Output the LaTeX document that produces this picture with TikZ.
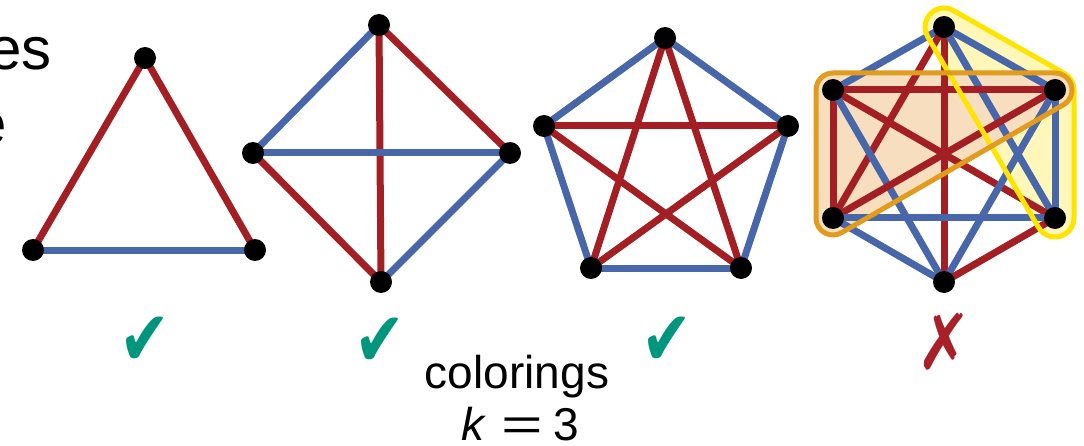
\documentclass[tikz,border=0pt]{standalone}
\usepackage{fontspec}
\usepackage{graphicx}
\setmainfont{Liberation Sans}
\newfontfamily\symfont{DejaVu Sans}
\usetikzlibrary{calc}
\pgfdeclarelayer{back}
\pgfsetlayers{back,main}
\definecolor{ered}{RGB}{163,31,36}
\definecolor{eblue}{RGB}{72,102,170}
\definecolor{okgreen}{RGB}{0,150,125}
\definecolor{badred}{RGB}{168,32,40}
\definecolor{hullorange}{RGB}{225,155,30}
\definecolor{hullorangefill}{RGB}{246,222,190}
\definecolor{hullyellow}{RGB}{255,228,0}
\definecolor{hullyellowfill}{RGB}{255,247,185}
\newcommand\hullpath[4]{%
  let \p1=($(#2.center)-(#1.center)$), \p2=($(#3.center)-(#2.center)$), \p3=($(#1.center)-(#3.center)$),
      \n1={atan2(\y1,\x1)-90}, \n2={atan2(\y2,\x2)-90}, \n3={atan2(\y3,\x3)-90},
      \n4={mod(\n2-\n1+720,360)}, \n5={mod(\n3-\n2+720,360)}, \n6={mod(\n1-\n3+720,360)}
  in ($(#1.center)+(\n1:#4)$) -- ($(#2.center)+(\n1:#4)$)
     arc[start angle=\n1, delta angle=\n4, radius=#4]
     -- ($(#3.center)+(\n2:#4)$)
     arc[start angle=\n2, delta angle=\n5, radius=#4]
     -- ($(#1.center)+(\n3:#4)$)
     arc[start angle=\n3, delta angle=\n6, radius=#4]
     -- cycle}
\begin{document}
\begin{tikzpicture}[x=1pt,y=1pt,
  vtx/.style={circle,fill=black,inner sep=0pt,minimum size=22pt},
  redge/.style={draw=ered,line width=7pt},
  bedge/.style={draw=eblue,line width=7pt},
  okmark/.style={text=okgreen,font=\symfont\fontsize{64}{64}\selectfont,inner sep=0pt},
  badmark/.style={text=badred,font=\symfont\fontsize{70}{70}\selectfont,inner sep=0pt},
  bigtext/.style={font=\fontsize{60}{72}\selectfont,inner sep=0pt},
  captext/.style={font=\fontsize{46}{52}\selectfont,inner sep=0pt},
  hullfill/.style={fill=#1},
  hullline/.style={draw=#1,line width=5pt}
]
\useasboundingbox (0,0) rectangle (1084,445);
% cut-off text at the left
\node[bigtext,anchor=base east] (es) at (52,375) {es};
\node[bigtext,anchor=base east] (e2) at (7,300) {e};
% K3
\node[vtx] (t1) at (145,387) {};
\node[vtx] (t2) at (33,195) {};
\node[vtx] (t3) at (255,195) {};
% K4
\node[vtx] (a1) at (379,420) {};
\node[vtx] (a2) at (253,292) {};
\node[vtx] (a3) at (510,292) {};
\node[vtx] (a4) at (381,163) {};
% K5
\node[vtx] (p1) at (665,407) {};
\node[vtx] (p2) at (544,319) {};
\node[vtx] (p3) at (788,319) {};
\node[vtx] (p4) at (591,177) {};
\node[vtx] (p5) at (741,177) {};
% K6
\node[vtx] (h1) at (944,418) {};
\node[vtx] (h2) at (833,355) {};
\node[vtx] (h3) at (1055,355) {};
\node[vtx] (h4) at (833,227) {};
\node[vtx] (h5) at (1055,227) {};
\node[vtx] (h6) at (944,163) {};
\begin{pgfonlayer}{back}
  % highlight fills
  \fill[hullfill=hullyellowfill] \hullpath{h1}{h5}{h3}{19};
  \fill[hullfill=hullorangefill] \hullpath{h2}{h4}{h3}{17};
  % K3 edges
  \draw[redge] (t1.center) -- (t2.center);
  \draw[redge] (t1.center) -- (t3.center);
  \draw[bedge] (t2.center) -- (t3.center);
  % K4 edges
  \draw[bedge] (a1.center) -- (a2.center);
  \draw[redge] (a1.center) -- (a3.center);
  \draw[redge] (a1.center) -- (a4.center);
  \draw[bedge] (a2.center) -- (a3.center);
  \draw[redge] (a2.center) -- (a4.center);
  \draw[bedge] (a3.center) -- (a4.center);
  % K5 edges
  \draw[bedge] (p1.center) -- (p2.center);
  \draw[bedge] (p1.center) -- (p3.center);
  \draw[bedge] (p2.center) -- (p4.center);
  \draw[bedge] (p4.center) -- (p5.center);
  \draw[bedge] (p5.center) -- (p3.center);
  \draw[redge] (p1.center) -- (p4.center);
  \draw[redge] (p1.center) -- (p5.center);
  \draw[redge] (p2.center) -- (p3.center);
  \draw[redge] (p2.center) -- (p5.center);
  \draw[redge] (p3.center) -- (p4.center);
  % K6 edges
  \draw[bedge] (h1.center) -- (h2.center);
  \draw[bedge] (h1.center) -- (h3.center);
  \draw[redge] (h1.center) -- (h6.center);
  \draw[redge] (h1.center) -- (h4.center);
  \draw[bedge] (h1.center) -- (h5.center);
  \draw[redge] (h2.center) -- (h3.center);
  \draw[redge] (h2.center) -- (h4.center);
  \draw[redge] (h2.center) -- (h5.center);
  \draw[bedge] (h2.center) -- (h6.center);
  \draw[bedge] (h3.center) -- (h5.center);
  \draw[redge] (h3.center) -- (h4.center);
  \draw[bedge] (h3.center) -- (h6.center);
  \draw[bedge] (h4.center) -- (h5.center);
  \draw[bedge] (h4.center) -- (h6.center);
  \draw[redge] (h5.center) -- (h6.center);
  % highlight outlines
  \draw[hullline=hullyellow] \hullpath{h1}{h5}{h3}{19};
  \draw[hullline=hullorange] \hullpath{h2}{h4}{h3}{17};
\end{pgfonlayer}
% marks
\node[okmark] (m1) at (145,104) {\scalebox{0.95}[1.2]{✔}};
\node[okmark] (m2) at (380,103) {\scalebox{0.95}[1.2]{✔}};
\node[okmark] (m3) at (667,104) {\scalebox{0.95}[1.2]{✔}};
\node[badmark] (m4) at (944,103) {\scalebox{0.95}[1.1]{✗}};
% caption
\node[captext,anchor=base] (cap1) at (517,57) {colorings};
\node[captext,anchor=base] (cap2) at (520,5) {\textit{k}\hspace{15pt}\scalebox{1.55}[1]{=}\hspace{10pt}3};
\end{tikzpicture}
\end{document}
